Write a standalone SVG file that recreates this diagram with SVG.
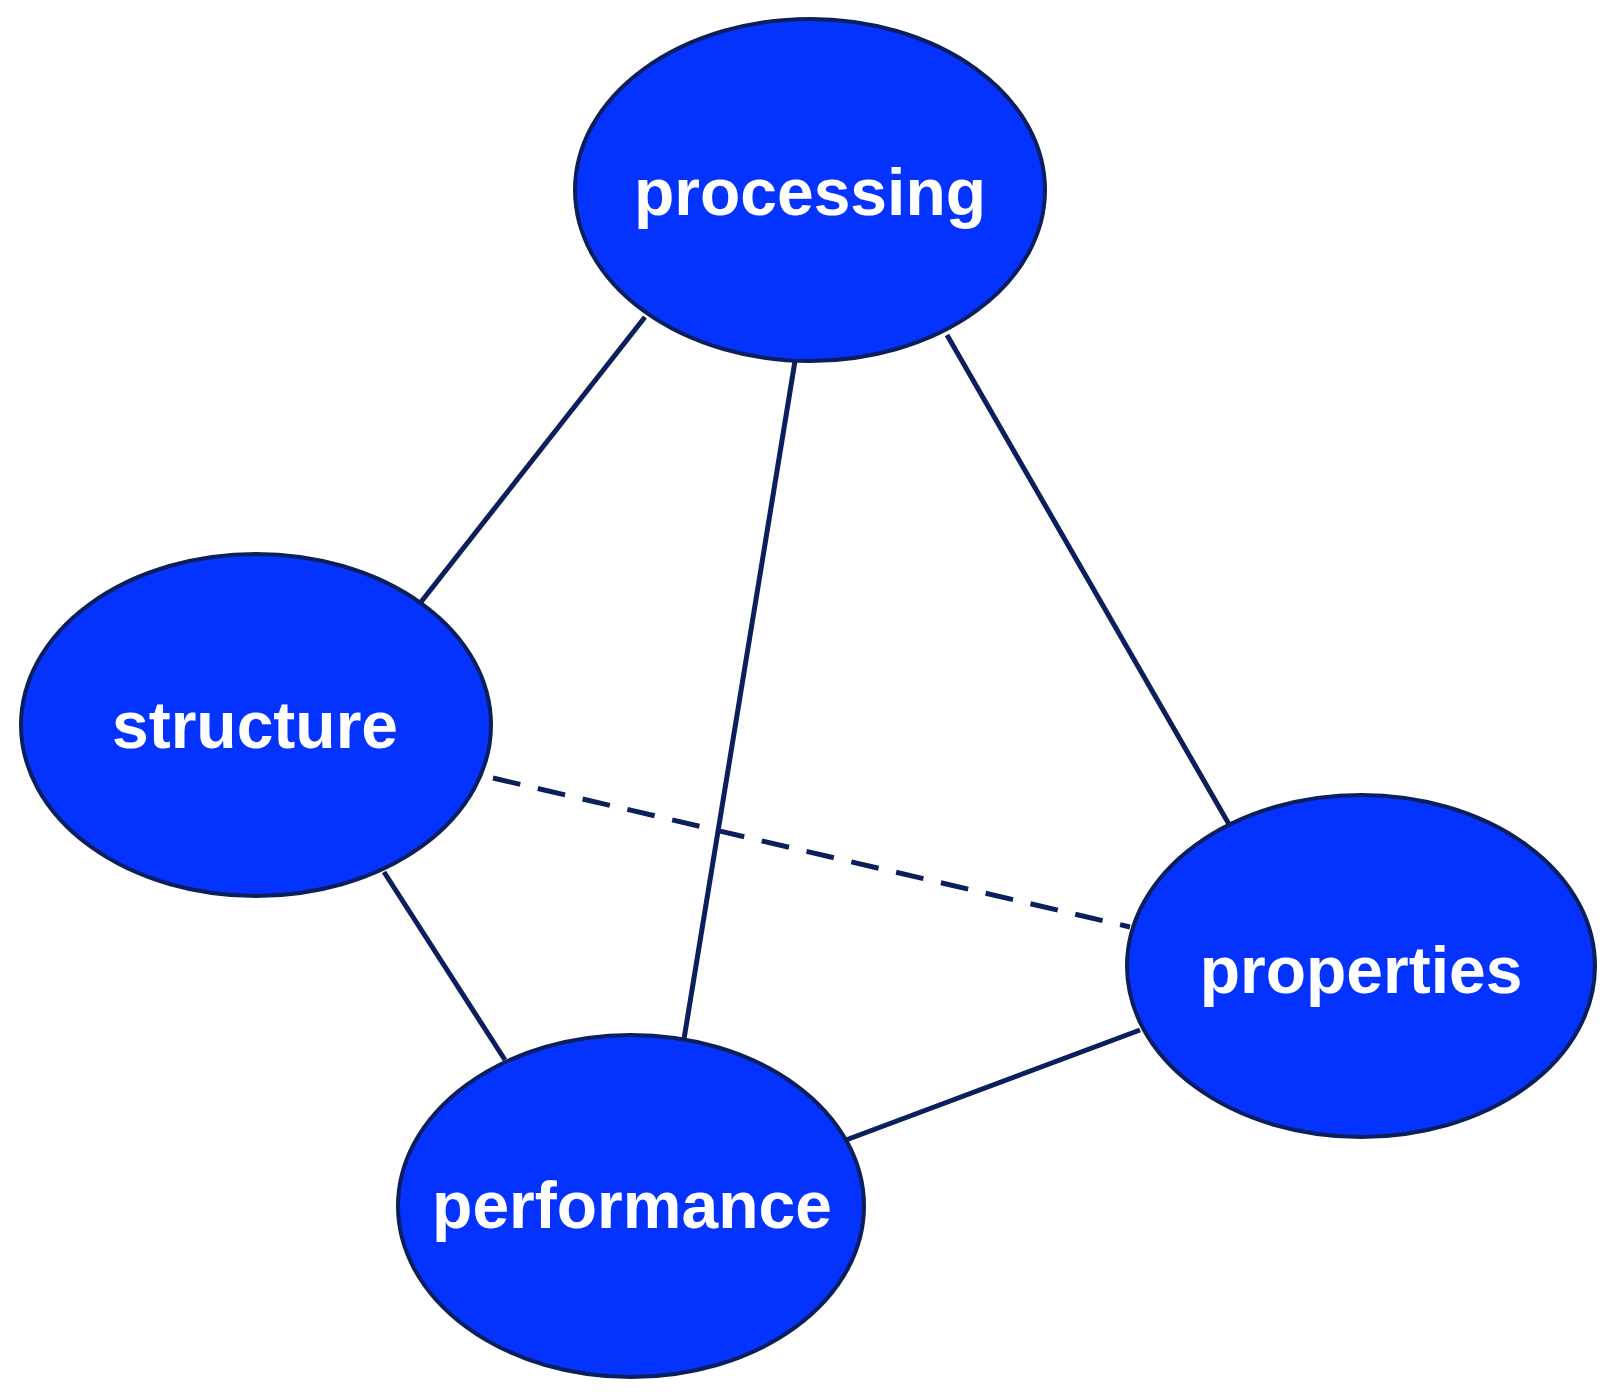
<svg xmlns="http://www.w3.org/2000/svg" width="1617" height="1398" viewBox="0 0 1617 1398">
<style>
.e{fill:#0433ff;stroke:#0a1f5c;stroke-width:4}
.t{fill:#fff;font-family:"Liberation Sans",Arial,sans-serif;font-weight:bold;font-size:66px;text-anchor:middle}
.c{stroke:#0a1f5c;stroke-width:5;fill:none}
.d{stroke-dasharray:28 18}
</style>
<rect width="1617" height="1398" fill="#fff"/>
<g id="connectors">
<line class="c" x1="645" y1="317" x2="421" y2="602"/>
<line class="c" x1="795" y1="361" x2="684" y2="1039"/>
<line class="c" x1="947" y1="335" x2="1230" y2="826"/>
<line class="c" x1="384" y1="872" x2="505" y2="1060"/>
<line class="c" x1="1140" y1="1030" x2="846" y2="1140"/>
<line class="c d" x1="493" y1="778" x2="1130" y2="927"/>
</g>
<g id="processing"><ellipse class="e" cx="810" cy="190" rx="235" ry="171"/><text class="t" x="810" y="215">processing</text></g>
<g id="structure"><ellipse class="e" cx="256" cy="725" rx="235" ry="171"/><text class="t" x="255" y="748">structure</text></g>
<g id="properties"><ellipse class="e" cx="1361" cy="966" rx="234" ry="171"/><text class="t" x="1361" y="993">properties</text></g>
<g id="performance"><ellipse class="e" cx="631" cy="1206" rx="233" ry="171"/><text class="t" x="632" y="1228">performance</text></g>
</svg>
